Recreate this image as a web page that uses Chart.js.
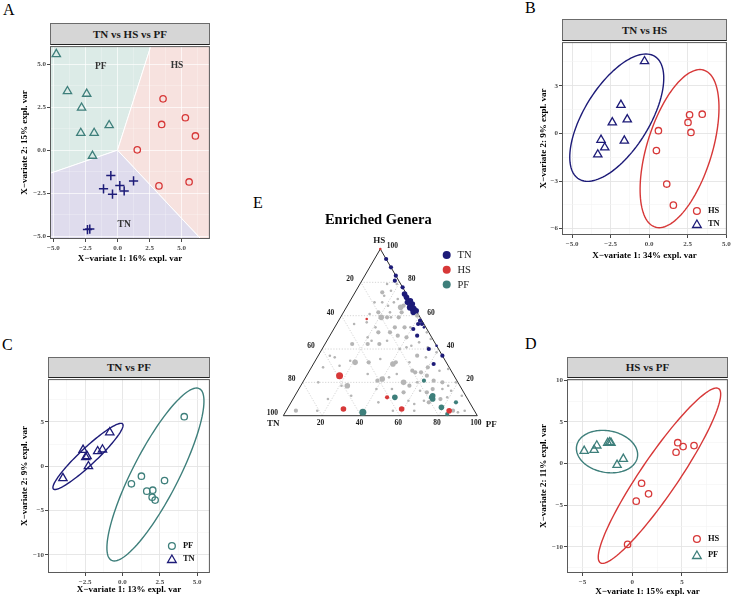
<!DOCTYPE html>
<html>
<head>
<meta charset="utf-8">
<script src="https://cdn.jsdelivr.net/npm/chart.js@4.4.1/dist/chart.umd.min.js"></script>
<style>
  body { margin: 0; width: 733px; height: 597px; position: relative; background: #fff; overflow: hidden;
         font-family: 'Liberation Serif', 'DejaVu Serif', serif; }
  canvas { position: absolute; }
  .letra { position: absolute; font-size: 16px; line-height: 16px; color: #000; }
  .strip { position: absolute; box-sizing: border-box; background: #D6D6D6; border: 1px solid #6b6b6b;
           border-bottom: 1px solid #222; font-weight: bold; font-size: 11px; text-align: center; color: #1a1a1a; }
</style>
</head>
<body>
<div class="letra" style="left:3px;top:2px">A</div>
<div class="letra" style="left:525px;top:0px">B</div>
<div class="letra" style="left:2px;top:337px">C</div>
<div class="letra" style="left:525px;top:336px">D</div>
<div class="letra" style="left:253px;top:195px">E</div>

<div class="strip" style="left:50px;top:23px;width:160px;height:22px;line-height:20px">TN vs HS vs PF</div>
<div class="strip" style="left:562px;top:19px;width:165px;height:22px;line-height:20px">TN vs HS</div>
<div class="strip" style="left:48px;top:357px;width:162px;height:21px;line-height:19px">TN vs PF</div>
<div class="strip" style="left:567px;top:357px;width:161px;height:21px;line-height:19px">HS vs PF</div>

<script>
// =========================
// Colores y fuentes
// =========================
const FONT = "'Liberation Serif', 'DejaVu Serif', serif";
const NAVY = '#1d1b78';
const RED = '#d73838';
const TEAL = '#3e7f7b';
const GRAY = '#b5b5b5';

// =========================
// Datos panel A (TN vs HS vs PF)
// =========================
const aTN = [[-0.52, -1.48], [-1.09, -2.25], [-0.39, -2.56], [0.18, -2.06], [0.52, -2.37], [1.25, -1.79], [-2.34, -4.62], [-2.16, -4.59]];
const aHS = [[3.55, 2.99], [5.29, 1.89], [3.44, 1.5], [6.07, 0.83], [1.54, 0.02], [3.23, -2.08], [5.58, -1.85]];
const aPF = [[-4.77, 5.59], [-3.9, 3.43], [-2.4, 3.28], [-2.8, 2.47], [-0.65, 1.45], [-2.86, 1.0], [-1.82, 1.0], [-1.95, -0.33]];
// fronteras de las regiones de predicción (cruce y salidas por los bordes)
const aJunction = [0, 0];
const aEdgePFHS = [2.6, 6.06];
const aEdgePFTN = [-5.26, -1.35];
const aEdgeHSTN = [6.5, -5.17];

// =========================
// Datos panel B (TN vs HS)
// =========================
const bTN = [[-0.3, 4.54], [-1.83, 1.79], [-1.42, 0.88], [-2.39, 0.69], [-3.12, -0.41], [-1.61, -0.46], [-2.88, -0.89], [-3.33, -1.33]];
const bHS = [[0.6, 0.17], [0.47, -1.08], [2.62, 1.17], [2.52, 0.69], [3.44, 1.21], [2.71, 0.06], [1.14, -3.19], [1.57, -4.52]];

// =========================
// Datos panel C (TN vs PF)
// =========================
const cTN = [[-0.85, 3.82], [-2.64, 1.84], [-2.46, 1.01], [-2.37, 1.13], [-1.66, 1.69], [-1.34, 1.88], [-2.28, 0.0], [-3.99, -1.35]];
const cPF = [[4.14, 5.59], [1.27, -1.12], [0.6, -1.98], [2.82, -1.61], [1.63, -2.81], [2.03, -2.7], [1.99, -3.49], [2.19, -3.82]];

// =========================
// Datos panel D (HS vs PF)
// =========================
const dHS = [[4.58, 2.51], [5.12, 2.04], [6.22, 2.16], [4.41, 1.36], [0.94, -2.36], [1.64, -3.63], [0.4, -4.51], [-0.47, -9.7]];
const dPF = [[-4.84, 1.52], [-3.84, 1.64], [-3.57, 2.16], [-2.47, 2.48], [-2.27, 2.56], [-2.14, 2.48], [-1.53, -0.16], [-0.9, 0.56]];

// Elipses: centro x, centro y, punto superior x, y, semiancho horizontal
const ellBTN = [-2.1, 0.99, -0.21, 5.0, 2.39];
const ellBHS = [1.97, -0.96, 3.29, 4.02, 2.19];
const ellCTN = [-2.31, 1.11, -0.1, 4.84, 0.8];
const ellCPF = [2.21, -0.93, 4.97, 8.82, 1.72];
const ellDPF = [-2.54, 1.44, -2.99, 3.99, 3.05];
const ellDHS = [2.74, -1.45, 8.47, 9.07, 2.27];

// =========================
// Ejes (marcas mayores y menores)
// =========================
const aXMajor = [-5, -2.5, 0, 2.5, 5], aXMinor = [-3.75, -1.25, 1.25, 3.75, 6.25];
const aYMajor = [-5, -2.5, 0, 2.5, 5], aYMinor = [-3.75, -1.25, 1.25, 3.75];
const bXMajor = [-5, -2.5, 0, 2.5, 5], bXMinor = [-3.75, -1.25, 1.25, 3.75];
const bYMajor = [-6, -3, 0, 3], bYMinor = [-4.5, -1.5, 1.5, 4.5];
const cXMajor = [-2.5, 0, 2.5, 5], cXMinor = [-3.75, -1.25, 1.25, 3.75];
const cYMajor = [-10, -5, 0, 5], cYMinor = [-7.5, -2.5, 2.5, 7.5];
const dXMajor = [-5, 0, 5], dXMinor = [-2.5, 2.5, 7.5];
const dYMajor = [-10, -5, 0, 5, 10], dYMinor = [-12.5, -7.5, -2.5, 2.5, 7.5];

// =========================
// Datos panel E (ternario): [TN, HS, PF, nivel de abundancia]
// =========================
const eTN = [[0, 94, 6, 2], [0, 89, 11, 2], [0, 84, 16, 2], [2, 81, 17, 2], [0, 77, 23, 2], [1, 73, 26, 3], [1, 71, 28, 3],
  [0, 69, 31, 3], [2, 68, 30, 3], [0, 67, 33, 3], [2, 65, 33, 4], [1, 64, 35, 4], [2, 62, 36, 3], [0, 63, 37, 3],
  [1, 57, 42, 2], [3, 55, 42, 2], [1, 55, 44, 2], [7, 52, 41, 2], [1, 53, 46, 1], [7, 48, 45, 2], [5, 40, 55, 2],
  [0, 42, 58, 1], [0, 36, 64, 2], [7, 31, 62, 2]];
const eHS = [[0, 100, 0, 1], [28, 58, 14, 1], [59, 24, 17, 4], [67, 4, 29, 3], [41, 11, 48, 2], [37, 4, 59, 3], [13, 3, 84, 3]];
const ePF = [[58, 2, 40, 4], [37, 11, 52, 3], [17, 21, 62, 2], [17, 12, 71, 3], [18, 11, 71, 3], [18, 10, 72, 3],
  [16, 5, 79, 3], [7, 8, 85, 2], [15, 1, 84, 2]];
const eOther = [[7, 75, 18, 1], [12, 72, 16, 1], [2, 79, 19, 1], [19, 68, 13, 1], [13, 66, 21, 1], [9, 68, 23, 1],
  [7, 65, 28, 3], [5, 66, 29, 2], [8, 62, 30, 2], [20, 62, 18, 2], [20, 59, 21, 3], [17, 59, 24, 2], [15, 59, 26, 1],
  [36, 55, 9, 1], [29, 56, 15, 1], [26, 53, 21, 1], [16, 53, 31, 2], [11, 53, 36, 2], [8, 53, 39, 1], [26, 50, 24, 2],
  [20, 50, 30, 2], [17, 48, 35, 2], [13, 47, 40, 2], [33, 47, 20, 1], [32, 45, 23, 1], [24, 45, 31, 1], [13, 42, 45, 1],
  [43, 43, 14, 2], [35, 43, 22, 2], [29, 43, 28, 2], [8, 44, 48, 1], [20, 40, 40, 1], [47, 32, 21, 3], [40, 32, 28, 2],
  [33, 34, 33, 1], [28, 31, 41, 3], [26, 32, 42, 2], [19, 32, 49, 1], [13, 36, 51, 2], [9, 35, 56, 1], [19, 26, 55, 2],
  [16, 26, 58, 2], [29, 25, 46, 1], [38, 22, 40, 3], [41, 21, 38, 2], [44, 25, 31, 1], [34, 23, 43, 1], [28, 20, 52, 3],
  [20, 27, 53, 2], [11, 29, 60, 2], [14, 24, 62, 2], [12, 21, 67, 2], [8, 20, 72, 2], [6, 18, 76, 1], [58, 18, 24, 3],
  [72, 20, 8, 1], [72, 10, 18, 1], [44, 16, 40, 1], [36, 16, 48, 1], [31, 14, 55, 2], [26, 18, 56, 2], [21, 20, 59, 1],
  [22, 15, 63, 1], [19, 14, 67, 2], [15, 16, 69, 2], [10, 16, 74, 1], [6, 15, 79, 1], [58, 36, 6, 1], [65, 29, 6, 1],
  [56, 30, 14, 1], [92, 3, 5, 2], [81, 3, 16, 1], [47, 8, 45, 1], [42, 3, 55, 1], [31, 3, 66, 1], [29, 7, 64, 1],
  [23, 9, 68, 1], [21, 8, 71, 2], [14, 10, 76, 2], [10, 11, 79, 1], [11, 3, 86, 2], [9, 2, 89, 1], [5, 3, 92, 1],
  [31, 9, 60, 1], [6, 27, 67, 1], [5, 41, 54, 1], [16, 41, 43, 1], [49, 33, 18, 1], [56, 35, 9, 1], [61, 18, 21, 1],
  [59, 12, 29, 1], [12, 74, 14, 2], [14, 68, 17, 1], [11, 59, 30, 2], [25, 61, 14, 1], [14, 62, 24, 1], [6, 70, 24, 1],
  [7, 79, 14, 1], [1, 60, 39, 2], [1, 57, 42, 2], [1, 50, 49, 1], [1, 46, 53, 1], [2, 38, 60, 1], [1, 28, 71, 1],
  [1, 20, 79, 1], [2, 12, 86, 1]];
const eGridSteps = [20, 40, 60, 80];
const eTickLabels = [20, 40, 60, 80, 100];

// =========================
// Utilidades
// =========================
function aPuntos(arr) {
  return arr.map(([x, y]) => ({ x: x, y: y }));
}

function formato(v, dec) {
  return (v < 0 ? '\u2212' : '') + Math.abs(v).toFixed(dec);
}

function dibujarTriangulo(ctx, x, y, r) {
  ctx.beginPath();
  for (let i = 0; i < 3; i++) {
    const a = i * 2 * Math.PI / 3;
    const px = x + Math.sin(a) * r, py = y - Math.cos(a) * r;
    i ? ctx.lineTo(px, py) : ctx.moveTo(px, py);
  }
  ctx.closePath();
  ctx.stroke();
}

// =========================
// Plugins
// =========================
const plugBorde = {
  id: 'borde',
  afterDraw(chart) {
    const { ctx, chartArea: a } = chart;
    ctx.save();
    ctx.strokeStyle = '#5a5a5a';
    ctx.lineWidth = 1;
    ctx.strokeRect(a.left + 0.5, a.top + 0.5, a.right - a.left - 1, a.bottom - a.top - 1);
    ctx.restore();
  }
};

const plugElipses = {
  id: 'elipses',
  afterDatasetsDraw(chart, args, opts) {
    const { ctx, scales: { x, y } } = chart;
    (opts.items || []).forEach(([e, color]) => {
      const [cx, cy, tx, ty, w] = e;
      ctx.save();
      ctx.strokeStyle = color;
      ctx.lineWidth = 1.4;
      ctx.beginPath();
      for (let i = 0; i <= 120; i++) {
        const t = i / 120 * 2 * Math.PI;
        const vx = cx + (tx - cx) * Math.cos(t) + w * Math.sin(t);
        const vy = cy + (ty - cy) * Math.cos(t);
        const px = x.getPixelForValue(vx), py = y.getPixelForValue(vy);
        i ? ctx.lineTo(px, py) : ctx.moveTo(px, py);
      }
      ctx.closePath();
      ctx.stroke();
      ctx.restore();
    });
  }
};

const plugLeyenda = {
  id: 'leyendaDentro',
  afterDraw(chart, args, opts) {
    const { ctx, chartArea: a } = chart;
    (opts.items || []).forEach(it => {
      const mx = a.right + it.dx, my = a.bottom + it.dy;
      ctx.save();
      ctx.strokeStyle = it.color;
      ctx.lineWidth = 1.3;
      if (it.forma === 'circle') {
        ctx.beginPath();
        ctx.arc(mx, my, 3.4, 0, 2 * Math.PI);
        ctx.stroke();
      } else {
        dibujarTriangulo(ctx, mx, my + 1, 5);
      }
      ctx.fillStyle = '#111';
      ctx.font = 'bold 8.5px ' + FONT;
      ctx.textBaseline = 'middle';
      ctx.fillText(it.label, mx + 11, my);
      ctx.restore();
    });
  }
};

const plugRegiones = {
  id: 'regiones',
  beforeDraw(chart) {
    const { ctx, scales: { x, y } } = chart;
    const P = (v) => [x.getPixelForValue(v[0]), y.getPixelForValue(v[1])];
    const xmin = x.min, xmax = x.max, ymin = y.min, ymax = y.max;
    const regiones = [
      ['#dcebe7', [[xmin, ymax], aEdgePFHS, aJunction, aEdgePFTN]],
      ['#f7e2df', [aEdgePFHS, [xmax, ymax], [xmax, ymin], aEdgeHSTN, aJunction]],
      ['#dfdced', [aEdgePFTN, aJunction, aEdgeHSTN, [xmin, ymin]]]
    ];
    ctx.save();
    regiones.forEach(([color, pts]) => {
      ctx.beginPath();
      pts.forEach((p, i) => { const [px, py] = P(p); i ? ctx.lineTo(px, py) : ctx.moveTo(px, py); });
      ctx.closePath();
      ctx.fillStyle = color;
      ctx.fill();
      ctx.strokeStyle = '#ffffff';
      ctx.lineWidth = 1;
      ctx.stroke();
    });
    ctx.restore();
  },
  afterDatasetsDraw(chart) {
    const { ctx, scales: { x, y } } = chart;
    ctx.save();
    ctx.fillStyle = '#333';
    ctx.font = 'bold 9.5px ' + FONT;
    ctx.textAlign = 'center';
    ctx.textBaseline = 'middle';
    ctx.fillText('PF', x.getPixelForValue(-1.3), y.getPixelForValue(4.87));
    ctx.fillText('HS', x.getPixelForValue(4.64), y.getPixelForValue(4.95));
    ctx.fillText('TN', x.getPixelForValue(0.52), y.getPixelForValue(-4.34));
    ctx.restore();
  }
};

// =========================
// Panel de dispersión genérico
// =========================
function eje(rango, mayores, menores, dec, titulo, pad, esX, grid) {
  return {
    type: 'linear',
    position: esX ? 'bottom' : 'left',
    min: rango[0],
    max: rango[1],
    afterBuildTicks: s => {
      s.ticks = mayores.concat(menores).sort((a, b) => a - b).map(v => ({ value: v }));
    },
    afterFit: s => {
      if (esX) s.height = 28; else s.width = 35;
    },
    grid: {
      color: c => (c.tick && menores.includes(c.tick.value)) ? grid[1] : grid[0],
      lineWidth: c => (c.tick && menores.includes(c.tick.value)) ? 0.6 : 0.9,
      tickColor: c => (c.tick && menores.includes(c.tick.value)) ? 'rgba(0,0,0,0)' : '#333',
      tickLength: 3,
      drawTicks: true
    },
    border: { display: false },
    ticks: {
      autoSkip: false,
      maxRotation: 0,
      padding: esX ? 2 : 1,
      color: '#4d4d4d',
      font: { family: FONT, size: 7, weight: 'bold' },
      callback: v => mayores.includes(v) ? formato(v, dec) : ''
    },
    title: {
      display: true,
      text: titulo,
      color: '#000',
      font: { family: FONT, size: 9, weight: 'bold' },
      padding: esX ? { top: 0, bottom: pad } : { top: pad, bottom: 0 }
    }
  };
}

function crearPanel(p) {
  const YW = 35, XH = 28, PT = 5, PR = 6;
  const [x0, y0, x1, y1] = p.caja;
  const cv = document.createElement('canvas');
  cv.width = x1 - x0 + YW + PR;
  cv.height = y1 - y0 + PT + XH;
  cv.style.left = (x0 - YW) + 'px';
  cv.style.top = (y0 - PT) + 'px';
  document.body.appendChild(cv);

  const grid = p.grid || ['#e4e4e4', '#f3f3f3'];
  return new Chart(cv.getContext('2d'), {
    type: 'scatter',
    data: { datasets: p.series },
    options: {
      responsive: false,
      animation: false,
      events: [],
      layout: { padding: { left: 0, top: PT, right: PR, bottom: 0 } },
      scales: {
        x: eje(p.xr, p.xMay, p.xMen, p.xDec, p.xTit, p.xPad, true, grid),
        y: eje(p.yr, p.yMay, p.yMen, p.yDec, p.yTit, p.yPad, false, grid)
      },
      plugins: {
        legend: { display: false },
        tooltip: { enabled: false },
        elipses: { items: p.elipses || [] },
        leyendaDentro: { items: p.leyenda || [] }
      }
    },
    plugins: [plugElipses, plugLeyenda, plugBorde].concat(p.extra || [])
  });
}

function serie(datos, color, forma, radio, grosor) {
  return {
    data: aPuntos(datos),
    pointStyle: forma,
    pointRadius: radio,
    pointBorderColor: color,
    pointBackgroundColor: 'rgba(0,0,0,0)',
    pointBorderWidth: grosor || 1.3,
    clip: false
  };
}

// =========================
// Panel A
// =========================
crearPanel({
  caja: [50, 45, 210, 239],
  xr: [-5.26, 7.2], yr: [-5.17, 6.06],
  xMay: aXMajor, xMen: aXMinor, yMay: aYMajor, yMen: aYMinor, xDec: 1, yDec: 1,
  xTit: 'X\u2212variate 1: 16% expl. var', yTit: 'X\u2212variate 2: 15% expl. var',
  xPad: 3.3, yPad: 4.6,
  grid: ['rgba(255,255,255,0.75)', 'rgba(255,255,255,0.4)'],
  series: [
    serie(aTN, NAVY, 'cross', 4.6, 1.5),
    serie(aHS, RED, 'circle', 3.2),
    serie(aPF, TEAL, 'triangle', 4.8)
  ],
  extra: [plugRegiones]
});

// =========================
// Panel B
// =========================
crearPanel({
  caja: [562, 41, 727, 235],
  xr: [-5.65, 5.04], yr: [-6.4, 5.75],
  xMay: bXMajor, xMen: bXMinor, yMay: bYMajor, yMen: bYMinor, xDec: 1, yDec: 0,
  xTit: 'X\u2212variate 1: 34% expl. var', yTit: 'X\u2212variate 2: 9% expl. var',
  xPad: 1.6, yPad: 10.9,
  series: [serie(bHS, RED, 'circle', 3.2), serie(bTN, NAVY, 'triangle', 4.8)],
  elipses: [[ellBTN, NAVY], [ellBHS, RED]],
  leyenda: [
    { label: 'HS', forma: 'circle', color: RED, dx: -30, dy: -24 },
    { label: 'TN', forma: 'triangle', color: NAVY, dx: -30, dy: -11 }
  ]
});

// =========================
// Panel C
// =========================
crearPanel({
  caja: [48, 378, 210, 573],
  xr: [-4.99, 5.86], yr: [-12.04, 9.83],
  xMay: cXMajor, xMen: cXMinor, yMay: cYMajor, yMen: cYMinor, xDec: 1, yDec: 0,
  xTit: 'X\u2212variate 1: 13% expl. var', yTit: 'X\u2212variate 2: 9% expl. var',
  xPad: 5.6, yPad: 6.6,
  series: [serie(cPF, TEAL, 'circle', 3.2), serie(cTN, NAVY, 'triangle', 4.8)],
  elipses: [[ellCTN, NAVY], [ellCPF, TEAL]],
  leyenda: [
    { label: 'PF', forma: 'circle', color: TEAL, dx: -38, dy: -27 },
    { label: 'TN', forma: 'triangle', color: NAVY, dx: -38, dy: -14 }
  ]
});

// =========================
// Panel D
// =========================
crearPanel({
  caja: [567, 378, 728, 573],
  xr: [-6.57, 9.63], yr: [-13.13, 10.14],
  xMay: dXMajor, xMen: dXMinor, yMay: dYMajor, yMen: dYMinor, xDec: 0, yDec: 0,
  xTit: 'X\u2212variate 1: 15% expl. var', yTit: 'X\u2212variate 2: 11% expl. var',
  xPad: 3.9, yPad: 5.9,
  series: [serie(dHS, RED, 'circle', 3.2), serie(dPF, TEAL, 'triangle', 4.8)],
  elipses: [[ellDPF, TEAL], [ellDHS, RED]],
  leyenda: [
    { label: 'HS', forma: 'circle', color: RED, dx: -31, dy: -34 },
    { label: 'PF', forma: 'triangle', color: TEAL, dx: -31, dy: -18 }
  ]
});

// =========================
// Panel E - gráfico ternario
// =========================
const RADIOS = [0, 1.3, 2.1, 2.8, 3.5];
const S3 = Math.sqrt(3) / 2;

function ternario(arr) {
  return arr.map(([t, h, p, n]) => ({ x: p / 100 + h / 200, y: h / 100 * S3, n: n }));
}

function serieTern(datos, color) {
  return {
    data: ternario(datos),
    pointStyle: 'circle',
    pointRadius: c => RADIOS[c.raw.n],
    pointBackgroundColor: color,
    pointBorderColor: color,
    pointBorderWidth: 0,
    clip: false
  };
}

const plugTernario = {
  id: 'ternario',
  beforeDatasetsDraw(chart) {
    const { ctx, scales: { x, y } } = chart;
    const tp = (t, h, p) => [x.getPixelForValue(p / 100 + h / 200), y.getPixelForValue(h / 100 * S3)];
    const linea = (a, b) => { ctx.beginPath(); ctx.moveTo(a[0], a[1]); ctx.lineTo(b[0], b[1]); ctx.stroke(); };
    ctx.save();
    ctx.strokeStyle = '#c9c9c9';
    ctx.lineWidth = 0.8;
    ctx.setLineDash([1.2, 1.6]);
    eGridSteps.forEach(k => {
      linea(tp(100 - k, k, 0), tp(0, k, 100 - k));   // HS constante
      linea(tp(100 - k, 0, k), tp(0, 100 - k, k));   // PF constante
      linea(tp(k, 0, 100 - k), tp(k, 100 - k, 0));   // TN constante
    });
    ctx.setLineDash([]);
    ctx.strokeStyle = '#2b2b2b';
    ctx.lineWidth = 1;
    ctx.beginPath();
    const v1 = tp(100, 0, 0), v2 = tp(0, 100, 0), v3 = tp(0, 0, 100);
    ctx.moveTo(v1[0], v1[1]); ctx.lineTo(v2[0], v2[1]); ctx.lineTo(v3[0], v3[1]); ctx.closePath();
    ctx.stroke();
    ctx.restore();
  },
  afterDraw(chart) {
    const { ctx, scales: { x, y } } = chart;
    const tp = (t, h, p) => [x.getPixelForValue(p / 100 + h / 200), y.getPixelForValue(h / 100 * S3)];
    ctx.save();
    ctx.fillStyle = '#1a1a1a';
    ctx.textBaseline = 'middle';
    ctx.textAlign = 'center';
    ctx.font = 'bold 7.5px ' + FONT;
    eTickLabels.forEach(k => {
      let q = tp(0, k, 100 - k); ctx.fillText(String(k), q[0] + 12, q[1] - 3);   // eje HS (derecha)
      q = tp(k, 100 - k, 0); ctx.fillText(String(k), q[0] - 11, q[1] - 3);       // eje TN (izquierda)
      q = tp(100 - k, 0, k); ctx.fillText(String(k), q[0] - 1.5, q[1] + 7);       // eje PF (abajo)
    });
    ctx.font = 'bold 9px ' + FONT;
    let q = tp(0, 100, 0); ctx.fillText('HS', q[0] - 1, q[1] - 8.5);
    q = tp(100, 0, 0); ctx.fillText('TN', q[0] - 10, q[1] + 8);
    q = tp(0, 0, 100); ctx.fillText('PF', q[0] + 14, q[1] + 9);

    // título
    ctx.font = 'bold 14.5px ' + FONT;
    ctx.fillStyle = '#000';
    ctx.fillText('Enriched Genera', 138.3, 40.7);

    // leyenda
    const ley = [['TN', NAVY], ['HS', RED], ['PF', TEAL]];
    ctx.font = '10.5px ' + FONT;
    ctx.textAlign = 'left';
    ley.forEach(([lab, col], i) => {
      const ly = 75 + i * 14.8;
      ctx.fillStyle = col;
      ctx.beginPath();
      ctx.arc(206.7, ly, 4, 0, 2 * Math.PI);
      ctx.fill();
      ctx.fillStyle = '#222';
      ctx.fillText(lab, 217.5, ly + 0.5);
    });
    ctx.restore();
  }
};

(function () {
  const cv = document.createElement('canvas');
  cv.width = 260;
  cv.height = 260;
  cv.style.left = '240px';
  cv.style.top = '180px';
  document.body.appendChild(cv);
  new Chart(cv.getContext('2d'), {
    type: 'scatter',
    data: {
      datasets: [
        serieTern(eTN, NAVY),
        serieTern(eHS, RED),
        serieTern(ePF, TEAL),
        serieTern(eOther, GRAY)
      ]
    },
    options: {
      responsive: false,
      animation: false,
      events: [],
      layout: { padding: { left: 43.3, right: 22.7, top: 69, bottom: 24.3 } },
      scales: {
        x: { type: 'linear', min: 0, max: 1, display: false },
        y: { type: 'linear', min: 0, max: S3, display: false }
      },
      plugins: { legend: { display: false }, tooltip: { enabled: false } }
    },
    plugins: [plugTernario]
  });
})();
</script>
</body>
</html>
